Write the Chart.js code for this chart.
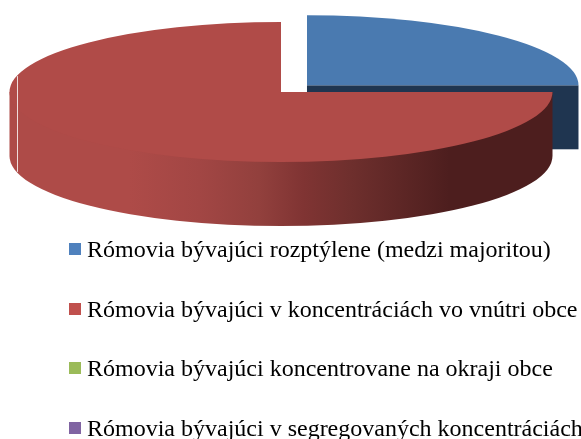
<!DOCTYPE html>
<html>
<head>
<meta charset="utf-8">
<style>
    html, body { margin: 0; padding: 0; background: #fff; overflow: hidden; }
    .container { position: relative; width: 581px; height: 439px; overflow: hidden; }
    #legend { position: absolute; left: 69px; top: 234px; margin: 0; padding: 0; list-style: none; }
    #legend li {
        height: 59.7px;
        white-space: nowrap;
        font: 24px/30px "Liberation Serif", serif;
        color: #000;
    }
    #legend i { display: inline-block; width: 12px; height: 12px; margin-right: 6px; vertical-align: 2px; }
</style>
</head>
<body>
<div class="container">
    <canvas id="myChart" width="581" height="439"></canvas>
    <ul id="legend"></ul>
</div>

<script src="https://cdn.jsdelivr.net/npm/chart.js@4"></script>
<script>
    const categories = [
        'Rómovia bývajúci rozptýlene (medzi majoritou)',
        'Rómovia bývajúci v koncentráciách vo vnútri obce',
        'Rómovia bývajúci koncentrovane na okraji obce',
        'Rómovia bývajúci v segregovaných koncentráciách'
    ]
    const shares = [25, 75, 0, 0]
    const sliceColors = ['#4a7ab0', '#b04b48', '#9bbb59', '#8064a2']
    const legendColors = ['#4f81bd', '#c0504d', '#9bbb59', '#8064a2']
    const wallColors = ['#1f3550', '#ae4b48', '#6f8a3c', '#5b4676']

    const squash = 0.258   // tilt of the pie
    const depth = 64       // height of the wall in pixels

    function tilt(ctx, cy) {
        ctx.translate(0, cy)
        ctx.scale(1, squash)
        ctx.translate(0, -cy)
    }

    // where the slice really sits once the explode offset is applied
    function sliceCentre(arc) {
        const off = (arc.options.offset || 0) / 4
        const half = (arc.startAngle + arc.endAngle) / 2
        return { x: arc.x + Math.cos(half) * off, y: arc.y + Math.sin(half) * off, r: arc.outerRadius }
    }

    function drawWall(ctx, chart, arc, index) {
        const c = sliceCentre(arc)
        const cy = arc.y
        const y = cy + (c.y - cy) * squash
        const ry = c.r * squash
        const from = Math.max(arc.startAngle, 0)
        const to = Math.min(arc.endAngle, Math.PI)

        // flat cut face of a slice that ends on the horizontal
        if (Math.abs(arc.endAngle) < 0.001) {
            ctx.fillStyle = wallColors[index]
            ctx.fillRect(c.x, y, c.r, depth)
        }
        if (to <= from) return

        const grad = ctx.createLinearGradient(c.x - c.r, 0, c.x + c.r, 0)
        grad.addColorStop(0, wallColors[index])
        grad.addColorStop(0.22, wallColors[index])
        grad.addColorStop(0.35, '#a24644')
        grad.addColorStop(0.46, '#92403d')
        grad.addColorStop(0.54, '#803433')
        grad.addColorStop(0.63, '#6e2f2d')
        grad.addColorStop(0.81, '#4d1e1e')
        grad.addColorStop(1, '#4d1e1e')
        ctx.fillStyle = grad
        // runs under the top face too, so no pale edge shows between the two
        ctx.beginPath()
        ctx.moveTo(c.x + c.r * Math.cos(from), y + ry * Math.sin(from))
        ctx.ellipse(c.x, y + depth, c.r, ry, 0, from, to)
        ctx.lineTo(c.x + c.r * Math.cos(to), y + ry * Math.sin(to))
        ctx.closePath()
        ctx.fill()
    }

    const pie3d = {
        id: 'pie3d',
        beforeDatasetsDraw(chart) {
            const ctx = chart.ctx
            const arcs = chart.getDatasetMeta(0).data
            ctx.save()
            arcs.forEach((arc, i) => drawWall(ctx, chart, arc, i))
            tilt(ctx, arcs[0].y)
        },
        afterDatasetsDraw(chart) {
            const ctx = chart.ctx
            ctx.restore()
            // thin seam on the left of the red slice
            const arc = chart.getDatasetMeta(0).data[1]
            const lean = 0.974
            const x = arc.x - arc.outerRadius * lean
            const dy = arc.outerRadius * squash * Math.sqrt(1 - lean * lean)
            ctx.save()
            ctx.strokeStyle = 'rgba(255,255,255,0.8)'
            ctx.lineWidth = 1
            ctx.beginPath()
            ctx.moveTo(Math.round(x) + 0.5, arc.y - dy)
            ctx.lineTo(Math.round(x) + 0.5, arc.y + dy + depth)
            ctx.stroke()
            ctx.restore()
        }
    }

    const chart = new Chart(document.getElementById('myChart').getContext('2d'), {
        type: 'pie',
        data: {
            labels: categories,
            datasets: [{
                data: shares,
                backgroundColor: sliceColors,
                borderWidth: 0,
                offset: [147, 0, 0, 0],
                clip: false
            }]
        },
        options: {
            responsive: false,
            animation: false,
            radius: 271.5,
            layout: { padding: { left: 0, right: 19, top: 0, bottom: 255 } },
            plugins: {
                legend: { display: false },
                tooltip: { enabled: false }
            }
        },
        plugins: [pie3d]
    })

    document.getElementById('legend').innerHTML = categories.map((name, i) =>
        '<li><i style="background:' + legendColors[i] + '"></i>' + name + '</li>'
    ).join('')
</script>
</body>
</html>
